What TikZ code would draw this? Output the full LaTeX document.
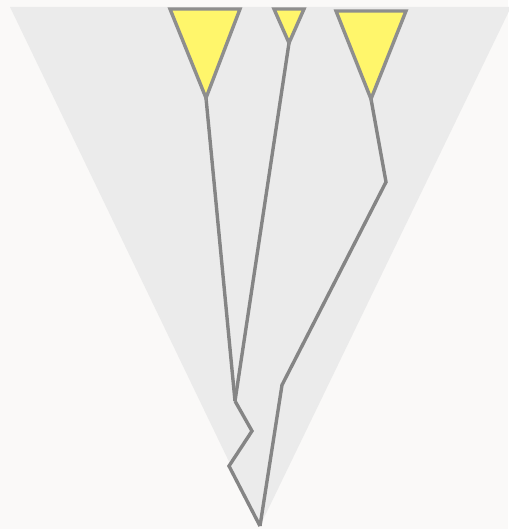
\documentclass[tikz,border=0pt]{standalone}
\usepackage{tikz}
\usetikzlibrary{calc}
\usepackage{xcolor}
\definecolor{paper}{HTML}{FAF9F8}
\definecolor{conegray}{HTML}{EBEBEB}
\definecolor{leafyellow}{HTML}{FFF66B}
\definecolor{branchgray}{HTML}{858585}
\definecolor{leafgray}{HTML}{8E8E8E}

\begin{document}
\begin{tikzpicture}[x=1pt, y=-1pt, line join=miter,
  branch/.style={draw=branchgray, line width=3.4pt},
  leaf/.style={fill=leafyellow, draw=leafgray, line width=3.4pt}]
  \fill[paper] (0,0) rectangle (508,529);
  \useasboundingbox (0,0) rectangle (508,529);
  % background cone
  \coordinate (CL) at (10,7);
  \coordinate (CR) at (511,7);
  \coordinate (root) at (260,526);
  \fill[conegray] (CL) -- (CR) -- (root) -- cycle;
  % branch points
  \coordinate (tipA) at (206,98);
  \coordinate (tipB) at (289,43);
  \coordinate (tipC) at (371,99);
  \coordinate (knee) at (386,182);
  \coordinate (joinR) at (282,385);
  \coordinate (joinL) at (235,401);
  \coordinate (zigA) at (252,431);
  \coordinate (zigB) at (229,466);
  % branches
  \draw[branch] (tipA) -- (joinL);
  \draw[branch] (tipB) -- (joinL);
  \draw[branch] (joinL) -- (zigA) -- (zigB) -- (root);
  \draw[branch] (tipC) -- (knee) -- (joinR) -- (root);
  % leaves
  \draw[leaf] (170,9) -- (240,9) -- (tipA) -- cycle;
  \draw[leaf] (274,9) -- (304,9) -- (tipB) -- cycle;
  \draw[leaf] (336,11) -- (406,11) -- (tipC) -- cycle;
\end{tikzpicture}
\end{document}
